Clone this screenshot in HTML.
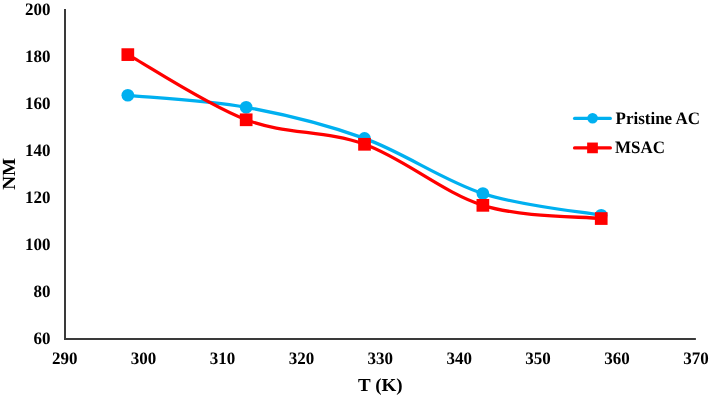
<!DOCTYPE html>
<html><head><meta charset="utf-8"><style>
html,body{margin:0;padding:0;background:#fff;width:710px;height:397px;overflow:hidden}
svg{display:block;will-change:transform}
text{font-family:"Liberation Serif",serif;font-weight:bold;fill:#000;font-size:17px;text-rendering:geometricPrecision}
</style></head><body>
<svg width="710" height="397" viewBox="0 0 710 397">
<line x1="65" y1="9.00" x2="65" y2="340.00" stroke="#3a3a3a" stroke-width="2"/>
<line x1="64" y1="339.00" x2="695.90" y2="339.00" stroke="#3a3a3a" stroke-width="2"/>
<text transform="translate(50.4,344) scale(1,1.025)" text-anchor="end">60</text>
<text transform="translate(50.4,297) scale(1,1.025)" text-anchor="end">80</text>
<text transform="translate(50.4,250) scale(1,1.025)" text-anchor="end">100</text>
<text transform="translate(50.4,203) scale(1,1.025)" text-anchor="end">120</text>
<text transform="translate(50.4,156) scale(1,1.025)" text-anchor="end">140</text>
<text transform="translate(50.4,109) scale(1,1.025)" text-anchor="end">160</text>
<text transform="translate(50.4,62) scale(1,1.025)" text-anchor="end">180</text>
<text transform="translate(50.4,15) scale(1,1.025)" text-anchor="end">200</text>
<text transform="translate(64.70,364) scale(1,1.025)" text-anchor="middle">290</text>
<text transform="translate(143.60,364) scale(1,1.025)" text-anchor="middle">300</text>
<text transform="translate(222.50,364) scale(1,1.025)" text-anchor="middle">310</text>
<text transform="translate(301.40,364) scale(1,1.025)" text-anchor="middle">320</text>
<text transform="translate(380.30,364) scale(1,1.025)" text-anchor="middle">330</text>
<text transform="translate(459.20,364) scale(1,1.025)" text-anchor="middle">340</text>
<text transform="translate(538.10,364) scale(1,1.025)" text-anchor="middle">350</text>
<text transform="translate(617.00,364) scale(1,1.025)" text-anchor="middle">360</text>
<text transform="translate(695.90,364) scale(1,1.025)" text-anchor="middle">370</text>
<text transform="translate(380.3,390.6) scale(1,0.965)" text-anchor="middle" style="font-size:19px">T (K)</text>
<text transform="translate(15.45,173.8) rotate(-90) scale(1,0.975)" text-anchor="middle" style="font-size:19px">NM</text>
<path d="M127.82,95.27 C147.54,97.27 206.72,100.10 246.17,107.29 C285.62,114.48 325.07,124.03 364.52,138.41 C403.97,152.79 443.42,180.76 482.87,193.56 C522.32,206.37 581.50,211.64 601.22,215.25" fill="none" stroke="#00B0F0" stroke-width="3.3" stroke-linejoin="round"/>
<circle cx="127.82" cy="95.27" r="6.35" fill="#00B0F0"/>
<circle cx="246.17" cy="107.29" r="6.35" fill="#00B0F0"/>
<circle cx="364.52" cy="138.41" r="6.35" fill="#00B0F0"/>
<circle cx="482.87" cy="193.56" r="6.35" fill="#00B0F0"/>
<circle cx="601.22" cy="215.25" r="6.35" fill="#00B0F0"/>
<path d="M127.82,54.61 C147.54,65.47 206.72,104.84 246.17,119.79 C285.62,134.73 325.07,130.04 364.52,144.30 C403.97,158.56 443.42,192.97 482.87,205.35 C522.32,217.72 581.50,216.35 601.22,218.55" fill="none" stroke="#FF0000" stroke-width="3.3" stroke-linejoin="round"/>
<rect x="121.47" y="48.26" width="12.7" height="12.7" fill="#FF0000"/>
<rect x="239.82" y="113.44" width="12.7" height="12.7" fill="#FF0000"/>
<rect x="358.17" y="137.95" width="12.7" height="12.7" fill="#FF0000"/>
<rect x="476.52" y="199.00" width="12.7" height="12.7" fill="#FF0000"/>
<rect x="594.87" y="212.20" width="12.7" height="12.7" fill="#FF0000"/>
<line x1="574.6" y1="118.4" x2="610.3" y2="118.4" stroke="#00B0F0" stroke-width="3.3" stroke-linecap="round"/>
<circle cx="592.6" cy="118.25" r="5.35" fill="#00B0F0"/>
<text transform="translate(615.5,123.6) scale(1,1.03)">Pristine AC</text>
<line x1="574.6" y1="147.9" x2="610.3" y2="147.9" stroke="#FF0000" stroke-width="3.4" stroke-linecap="round"/>
<rect x="587.15" y="142.55" width="10.7" height="10.7" fill="#FF0000"/>
<text transform="translate(614.9,153.2) scale(1,1.03)">MSAC</text>
</svg>
</body></html>
